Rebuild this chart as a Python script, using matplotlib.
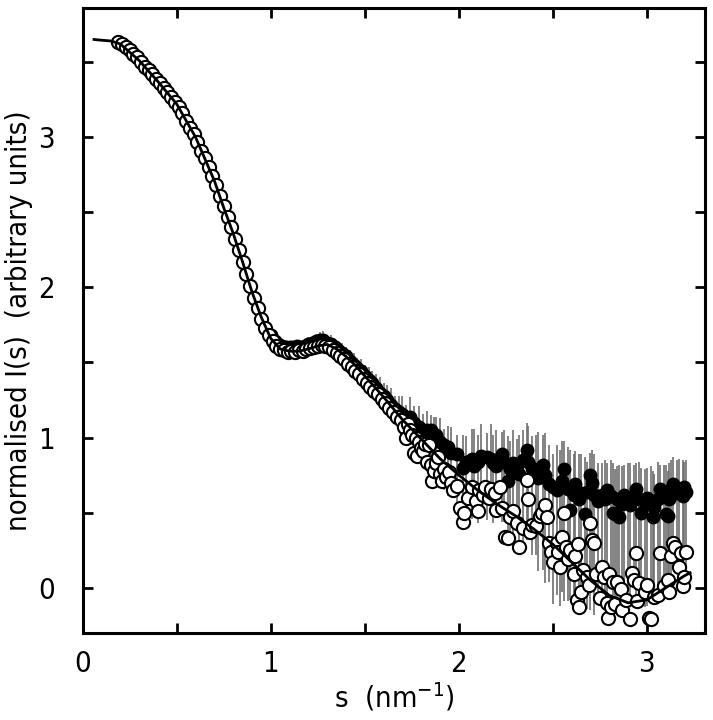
import matplotlib
matplotlib.use("Agg")
import matplotlib.pyplot as plt
from matplotlib.ticker import MultipleLocator

# fitted curve
fit_s = [0.06, 0.10, 0.15, 0.20, 0.30, 0.40, 0.50, 0.60, 0.70, 0.75, 0.80, 0.85, 0.90,
         0.95, 1.00, 1.05, 1.10, 1.15, 1.20, 1.25, 1.30, 1.35, 1.40, 1.45, 1.50, 1.55,
         1.60, 1.70, 1.80, 1.90, 2.00, 2.10, 2.20, 2.30, 2.40, 2.50, 2.60, 2.70, 2.80,
         2.90, 3.00, 3.10, 3.20, 3.23]
fit_I = [3.65, 3.645, 3.64, 3.62, 3.51, 3.37, 3.22, 3.00, 2.71, 2.53, 2.36, 2.17, 1.97,
         1.80, 1.66, 1.59, 1.575, 1.575, 1.59, 1.61, 1.62, 1.59, 1.54, 1.48, 1.41, 1.34,
         1.27, 1.12, 0.99, 0.86, 0.75, 0.65, 0.56, 0.48, 0.39, 0.29, 0.17, 0.05, -0.05,
         -0.10, -0.08, 0.00, 0.08, 0.10]

# open circles, smooth part
open_s_lo = [0.19, 0.21, 0.23, 0.25, 0.27, 0.29, 0.31, 0.33, 0.35, 0.37, 0.39, 0.41, 0.43,
             0.45, 0.47, 0.49, 0.51, 0.53, 0.55, 0.57, 0.59, 0.61, 0.63, 0.65, 0.67, 0.69,
             0.71, 0.73, 0.75, 0.77, 0.79, 0.81, 0.83, 0.85, 0.87, 0.89, 0.91, 0.93, 0.95,
             0.97, 0.99, 1.01, 1.03, 1.05, 1.07, 1.09, 1.11, 1.13, 1.15, 1.17, 1.19, 1.21,
             1.23, 1.25, 1.27, 1.29, 1.31, 1.33, 1.35, 1.37, 1.39, 1.41, 1.43, 1.45, 1.47,
             1.49, 1.51, 1.53, 1.55, 1.57, 1.59, 1.61, 1.63, 1.65, 1.67, 1.69]
open_I_lo = [3.63, 3.62, 3.60, 3.58, 3.555, 3.53, 3.50, 3.47, 3.45, 3.42, 3.39, 3.36, 3.33,
             3.30, 3.27, 3.235, 3.20, 3.16, 3.11, 3.06, 3.02, 2.97, 2.91, 2.86, 2.80, 2.74,
             2.68, 2.61, 2.54, 2.47, 2.40, 2.32, 2.25, 2.17, 2.09, 2.01, 1.93, 1.86, 1.79,
             1.73, 1.68, 1.64, 1.61, 1.59, 1.58, 1.57, 1.575, 1.57, 1.58, 1.575, 1.59, 1.595,
             1.60, 1.61, 1.615, 1.61, 1.60, 1.58, 1.56, 1.54, 1.52, 1.49, 1.47, 1.44, 1.42,
             1.39, 1.36, 1.34, 1.31, 1.29, 1.26, 1.23, 1.20, 1.17, 1.14, 1.12]

# open circles, noisy part
open_s_hi = [1.71, 1.72, 1.73, 1.74, 1.75, 1.76, 1.77, 1.78, 1.79, 1.80, 1.81, 1.82, 1.83,
             1.84, 1.85, 1.86, 1.87, 1.88, 1.89, 1.90, 1.91, 1.92, 1.93, 1.95, 1.96, 1.97,
             1.99, 2.005, 2.02, 2.03, 2.05, 2.07, 2.09, 2.10, 2.11, 2.13, 2.14, 2.16, 2.17,
             2.19, 2.20, 2.22, 2.23, 2.245, 2.26, 2.27, 2.29, 2.31, 2.32, 2.34, 2.36, 2.37,
             2.38, 2.39, 2.41, 2.43, 2.44, 2.46, 2.47, 2.48, 2.49, 2.50, 2.52, 2.53, 2.54,
             2.55, 2.56, 2.57, 2.58, 2.59, 2.61, 2.62, 2.63, 2.635, 2.64, 2.65, 2.66, 2.68,
             2.69, 2.70, 2.71, 2.72, 2.73, 2.75, 2.76, 2.77, 2.79, 2.795, 2.80, 2.81, 2.82,
             2.83, 2.84, 2.86, 2.87, 2.89, 2.91, 2.92, 2.93, 2.94, 2.95, 2.96, 2.99, 3.00,
             3.01, 3.02, 3.04, 3.06, 3.07, 3.09, 3.11, 3.12, 3.13, 3.14, 3.15, 3.17, 3.18,
             3.19, 3.20, 3.21]
open_I_hi = [1.07, 1.00, 1.09, 1.05, 1.02, 0.90, 1.00, 0.88, 0.97, 0.93, 0.91, 0.96, 0.84,
             0.95, 0.82, 0.71, 0.78, 0.83, 0.87, 0.76, 0.71, 0.79, 0.74, 0.77, 0.70, 0.65,
             0.68, 0.53, 0.44, 0.50, 0.60, 0.67, 0.58, 0.51, 0.65, 0.62, 0.67, 0.60, 0.66,
             0.63, 0.52, 0.67, 0.53, 0.34, 0.33, 0.47, 0.51, 0.43, 0.27, 0.40, 0.72, 0.59,
             0.37, 0.42, 0.41, 0.48, 0.50, 0.55, 0.47, 0.30, 0.24, 0.17, 0.30, 0.24, 0.14,
             0.34, 0.50, 0.27, 0.19, 0.25, 0.09, 0.21, -0.08, 0.29, -0.13, -0.03, 0.12, 0.07,
             0.02, 0.43, 0.32, 0.30, 0.09, -0.07, 0.14, 0.07, -0.10, -0.20, 0.09, -0.13, 0.04,
             -0.11, 0.04, -0.01, -0.15, -0.08, -0.21, 0.10, 0.05, 0.23, -0.09, 0.03, -0.03, 0.02,
             -0.20, -0.21, -0.06, -0.05, 0.23, 0.01, 0.05, -0.03, 0.21, 0.30, 0.27, 0.14, 0.23,
             0.01, 0.07, 0.24]

# filled circles with error bars, smooth part
fill_s_lo = [1.00, 1.02, 1.04, 1.06, 1.08, 1.10, 1.12, 1.14, 1.16, 1.18, 1.20, 1.22, 1.24,
             1.26, 1.28, 1.30, 1.32, 1.34, 1.36, 1.38, 1.40, 1.42, 1.44, 1.46, 1.48, 1.50,
             1.52, 1.54, 1.56, 1.58, 1.60, 1.62, 1.64, 1.66, 1.68]
fill_I_lo = [1.68, 1.64, 1.62, 1.61, 1.60, 1.60, 1.60, 1.61, 1.60, 1.61, 1.62, 1.63, 1.64,
             1.65, 1.65, 1.63, 1.62, 1.60, 1.58, 1.56, 1.54, 1.51, 1.48, 1.46, 1.44, 1.41,
             1.38, 1.36, 1.33, 1.30, 1.28, 1.25, 1.22, 1.19, 1.17]
fill_err_lo = [0.02, 0.02, 0.03, 0.02, 0.03, 0.03, 0.04, 0.03, 0.04, 0.04, 0.05, 0.04, 0.05,
               0.05, 0.06, 0.05, 0.06, 0.05, 0.06, 0.07, 0.06, 0.07, 0.08, 0.07, 0.08, 0.07,
               0.09, 0.08, 0.09, 0.10, 0.08, 0.10, 0.11, 0.09, 0.11]

# filled circles, noisy part (asymmetric bars)
fill_s_hi = [1.70, 1.72, 1.74, 1.76, 1.79, 1.81,
             1.83, 1.85, 1.87, 1.88, 1.90, 1.92, 1.94, 1.96, 1.99,
             2.02, 2.04, 2.07, 2.08, 2.10, 2.12, 2.15, 2.17, 2.18, 2.20,
             2.23, 2.24, 2.26, 2.27, 2.29, 2.31, 2.32, 2.34, 2.36, 2.37, 2.39,
             2.41, 2.42, 2.45, 2.46, 2.48, 2.50, 2.52, 2.54, 2.55, 2.56, 2.58, 2.59,
             2.61, 2.62, 2.64, 2.65, 2.67, 2.68, 2.70, 2.71, 2.72, 2.74, 2.76, 2.78, 2.79,
             2.81, 2.82, 2.83, 2.84, 2.85, 2.87, 2.88, 2.90, 2.91, 2.93, 2.94, 2.96, 2.97, 2.99,
             3.00, 3.02, 3.03, 3.04, 3.06, 3.07, 3.09, 3.10, 3.11, 3.12, 3.13, 3.14, 3.16,
             3.17, 3.19, 3.20, 3.21]
fill_I_hi = [1.16, 1.12, 1.14, 1.10, 1.07, 1.04,
             1.05, 1.05, 0.99, 1.02, 0.97, 0.95, 0.94, 0.90, 0.89,
             0.80, 0.84, 0.86, 0.81, 0.84, 0.88, 0.87, 0.86, 0.83, 0.81,
             0.89, 0.84, 0.71, 0.79, 0.83, 0.82, 0.76, 0.85, 0.92, 0.84, 0.80,
             0.77, 0.73, 0.82, 0.75, 0.69, 0.67, 0.65, 0.68, 0.71, 0.79, 0.66, 0.52,
             0.62, 0.69, 0.59, 0.63, 0.49, 0.64, 0.75, 0.70, 0.62, 0.58, 0.62, 0.59, 0.65,
             0.61, 0.50, 0.49, 0.59, 0.47, 0.56, 0.62, 0.59, 0.55, 0.61, 0.66, 0.59, 0.50, 0.57,
             0.60, 0.55, 0.47, 0.54, 0.59, 0.66, 0.61, 0.49, 0.48, 0.59, 0.66, 0.69, 0.63,
             0.66, 0.61, 0.67, 0.64]
fill_up_hi = [0.12, 0.10, 0.13, 0.11, 0.14, 0.12,
              0.13, 0.10, 0.15, 0.12, 0.16, 0.11, 0.14, 0.17, 0.13,
              0.22, 0.17, 0.20, 0.25, 0.18, 0.21, 0.16, 0.23, 0.19, 0.24,
              0.15, 0.21, 0.30, 0.19, 0.22, 0.17, 0.26, 0.20, 0.18, 0.24, 0.21,
              0.25, 0.31, 0.20, 0.28, 0.26, 0.22, 0.30, 0.24, 0.27, 0.19, 0.28, 0.40,
              0.27, 0.22, 0.30, 0.26, 0.38, 0.20, 0.15, 0.22, 0.27, 0.25, 0.21, 0.26, 0.18,
              0.24, 0.33, 0.30, 0.22, 0.35, 0.25, 0.20, 0.24, 0.28, 0.21, 0.17, 0.25, 0.30, 0.22,
              0.20, 0.26, 0.31, 0.22, 0.25, 0.16, 0.21, 0.33, 0.30, 0.24, 0.19, 0.18, 0.22,
              0.20, 0.24, 0.17, 0.21]
fill_dn_hi = [0.12, 0.14, 0.13, 0.15, 0.14, 0.16,
              0.22, 0.28, 0.25, 0.33, 0.27, 0.30, 0.33, 0.28, 0.32,
              0.28, 0.35, 0.40, 0.33, 0.41, 0.37, 0.42, 0.36, 0.40, 0.34,
              0.45, 0.40, 0.33, 0.45, 0.50, 0.42, 0.48, 0.55, 0.60, 0.52, 0.58,
              0.55, 0.62, 0.70, 0.72, 0.65, 0.78, 0.70, 0.80, 0.74, 0.88, 0.75, 0.60,
              0.70, 0.85, 0.72, 0.80, 0.55, 0.78, 0.90, 0.72, 0.80, 0.65, 0.75, 0.70, 0.82,
              0.62, 0.55, 0.60, 0.70, 0.52, 0.64, 0.72, 0.60, 0.66, 0.58, 0.75, 0.68, 0.55, 0.70,
              0.72, 0.60, 0.50, 0.62, 0.58, 0.70, 0.55, 0.45, 0.40, 0.52, 0.58, 0.55, 0.50,
              0.48, 0.52, 0.45, 0.50]

plt.rcParams['font.family'] = ['DejaVu Sans']
plt.rcParams['font.stretch'] = 'condensed'
plt.rcParams['mathtext.default'] = 'regular'

fig = plt.figure(figsize=(7.13, 7.2), dpi=100)
ax = fig.add_axes([0.116, 0.121, 0.873, 0.868])

fill_s = fill_s_lo + fill_s_hi
fill_I = fill_I_lo + fill_I_hi
err_dn = fill_err_lo + fill_dn_hi
err_up = fill_err_lo + fill_up_hi

ax.errorbar(fill_s, fill_I, yerr=[err_dn, err_up], fmt='none', ecolor='#6e6e6e',
            elinewidth=1.2, capsize=0, zorder=1)
ax.plot(fill_s, fill_I, 'o', ms=9, mfc='black', mec='black', mew=1.0, ls='none', zorder=2)
ax.plot(open_s_lo + open_s_hi, open_I_lo + open_I_hi, 'o', ms=9.5, mfc='white', mec='black',
        mew=1.5, ls='none', zorder=3)
ax.plot(fit_s, fit_I, '-', color='black', lw=2.0, zorder=4)

ax.set_xlim(0, 3.31)
ax.set_ylim(-0.3, 3.86)
ax.xaxis.set_major_locator(MultipleLocator(1))
ax.xaxis.set_minor_locator(MultipleLocator(0.5))
ax.yaxis.set_major_locator(MultipleLocator(1))
ax.yaxis.set_minor_locator(MultipleLocator(0.5))
ax.tick_params(which='both', direction='in', top=True, right=True, width=2, length=7)
ax.tick_params(axis='x', which='major', labelsize=21, pad=12)
ax.tick_params(axis='y', which='major', labelsize=21, pad=20)
for sp in ax.spines.values():
    sp.set_linewidth(2.2)

ax.set_xlabel(r's  (nm$^{-1}$)', fontsize=21, labelpad=2)
ax.set_ylabel('normalised I(s)  (arbitrary units)', fontsize=21, labelpad=4)

fig.savefig('out.png', dpi=100)
